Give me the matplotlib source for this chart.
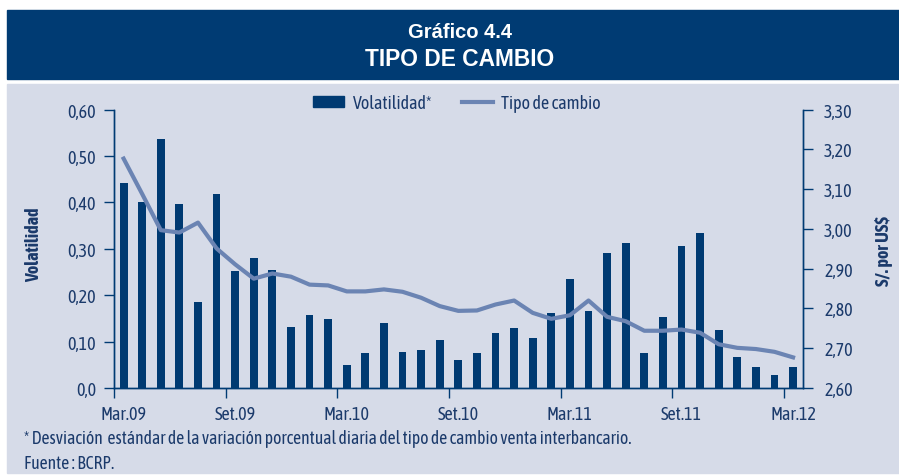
import matplotlib.pyplot as plt
import matplotlib.patches as mpatches
from matplotlib.lines import Line2D
import numpy as np

# monthly data, Mar.09 - Mar.12
volatilidad = [0.442, 0.400, 0.537, 0.396, 0.185, 0.419, 0.253, 0.281, 0.254, 0.132,
               0.158, 0.148, 0.049, 0.075, 0.140, 0.077, 0.083, 0.104, 0.060, 0.075,
               0.118, 0.130, 0.108, 0.161, 0.236, 0.166, 0.292, 0.313, 0.076, 0.153,
               0.307, 0.334, 0.125, 0.067, 0.046, 0.027, 0.046]
tipo_cambio = [3.177, 3.088, 2.997, 2.991, 3.016, 2.951, 2.911, 2.875, 2.888, 2.880,
               2.860, 2.858, 2.843, 2.843, 2.848, 2.842, 2.827, 2.806, 2.794, 2.795,
               2.810, 2.820, 2.789, 2.774, 2.783, 2.820, 2.779, 2.768, 2.744, 2.744,
               2.747, 2.739, 2.710, 2.701, 2.698, 2.691, 2.677]
x_labels = ['Mar.09', 'Set.09', 'Mar.10', 'Set.10', 'Mar.11', 'Set.11', 'Mar.12']
left_ticks = [0.0, 0.1, 0.2, 0.3, 0.4, 0.5, 0.6]
left_labels = ['0,0', '0,10', '0,20', '0,30', '0,40', '0,50', '0,60']
right_ticks = [2.6, 2.7, 2.8, 2.9, 3.0, 3.1, 3.2, 3.3]
right_labels = ['2,60', '2,70', '2,80', '2,90', '3,00', '3,10', '3,20', '3,30']

navy = '#003b73'
bar_c = '#003a72'
line_c = '#6b84b3'
panel = '#d6dbe8'
txt = '#1b3a6b'

plt.rcParams['font.family'] = ['Asap Condensed', 'Liberation Sans']

fig = plt.figure(figsize=(8.99, 4.77), dpi=100)
fig.patch.set_facecolor('white')

# header band and grey panel (behind the axes)
fig.patches.append(mpatches.Rectangle((7/899, 1-80/477), 1-7/899, 69/477,
                                      transform=fig.transFigure, color=navy, zorder=-2))
fig.patches.append(mpatches.Rectangle((7/899, 1-474/477), 1-7/899, 389/477,
                                      transform=fig.transFigure, color=panel, zorder=-2))
fig.text(460/899, 1-32/477, 'Gráfico 4.4', color='white', fontsize=14.5, fontweight='bold',
         family='Liberation Sans', ha='center', va='center')
fig.text(460/899, 1-60/477, 'TIPO DE CAMBIO', color='white', fontsize=16.4, fontweight='bold',
         family='Liberation Sans', ha='center', va='center')

ax = fig.add_axes([114.3/899, 1-389/477, 689/899, 278.3/477])
ax.patch.set_alpha(0)
n = len(volatilidad)
xs = np.arange(n) + 0.5
ax.bar(xs, volatilidad, width=0.42, color=bar_c, zorder=2)
ax.set_xlim(0, 37.05)
ax.set_ylim(0, 0.6)
ax.set_yticks(left_ticks)
ax.set_yticklabels(left_labels)
# tick marks on month boundaries, labels centred on the month
ax.set_xticks(np.arange(0, 37, 6))
ax.set_xticklabels([])
ax.set_xticks(np.arange(0, 37, 6) + 0.5, minor=True)
ax.set_xticklabels(x_labels, minor=True)

ax2 = ax.twinx()
ax2.plot(xs, tipo_cambio, color=line_c, lw=3, zorder=3)
ax2.set_ylim(2.6, 3.3)
ax2.set_yticks(right_ticks)
ax2.set_yticklabels(right_labels)

for a in (ax, ax2):
    a.spines['top'].set_visible(False)
    for s in a.spines.values():
        s.set_color(navy)
        s.set_linewidth(1.0)
    a.tick_params(colors=navy, labelcolor=txt, labelsize=13, length=7, width=1)
ax.tick_params(axis='y', pad=6)
ax.tick_params(axis='x', which='minor', length=0, pad=12, labelsize=13, labelcolor=txt)
ax2.tick_params(axis='y', pad=8)

fig.text(34/899, 1-245/477, 'Volatilidad', rotation=90, color=txt, fontsize=13,
         fontweight='bold', ha='center', va='center')
fig.text(884/899, 1-251/477, 'S/. por US$', rotation=90, color=txt, fontsize=13,
         fontweight='bold', ha='center', va='center')

handles = [mpatches.Patch(color=bar_c), Line2D([], [], color=line_c, lw=3)]
fig.legend(handles, ['Volatilidad*', 'Tipo de cambio'], loc='center',
           bbox_to_anchor=(457/899, 1-104/477), ncol=2, frameon=False, fontsize=13,
           labelcolor=txt, handlelength=1.75, handleheight=0.6, columnspacing=1.65,
           handletextpad=0.45)

fig.text(24/899, 1-439/477,
         '* Desviación  estándar de la variación porcentual diaria del tipo de cambio venta interbancario.',
         color=txt, fontsize=12.7, va='center')
fig.text(24/899, 1-464/477, 'Fuente : BCRP.', color=txt, fontsize=12.7, va='center')

fig.savefig('out.png', dpi=100, facecolor=fig.get_facecolor())
